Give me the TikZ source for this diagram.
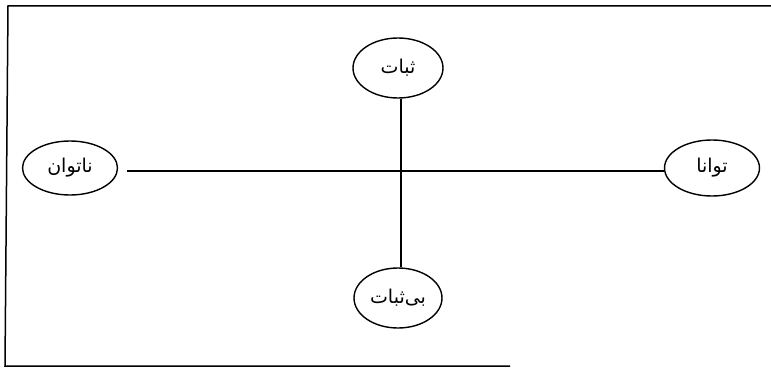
\documentclass[tikz,border=0pt]{standalone}
\usepackage{fontspec}
\TeXXeTstate=1
\newfontfamily\arabicfont[Script=Arabic]{DejaVu Sans}
\usetikzlibrary{shapes.geometric}
\begin{document}
\begin{tikzpicture}[x=1pt,y=-1pt,
  oval/.style={ellipse,draw,line width=1.4pt,minimum width=92pt,minimum height=56pt,inner sep=0pt,font=\arabicfont\fontsize{19}{21}\selectfont},
  link/.style={line width=1.4pt},
  frame/.style={line width=1.5pt}]
\useasboundingbox (0,0) rectangle (771,369);
\coordinate (c1) at (771,6);
\coordinate (c2) at (8,6);
\coordinate (c3) at (5,366);
\coordinate (c4) at (510,366);
\draw[frame] (c1) -- (c2) -- (c3) -- (c4);
\node[oval,minimum height=60pt,minimum width=90pt] (T) at (398,68) {\beginR ثبات\endR};
\node[oval,minimum width=88pt,minimum height=60pt] (B) at (398,298) {\beginR بی‌ثبات\endR};
\node[oval,minimum width=95pt,minimum height=54pt] (L) at (70,168) {\beginR ناتوان\endR};
\node[oval,minimum width=95pt,minimum height=56pt] (R) at (712,168) {\beginR توانا\endR};
\draw[link] ([xshift=9pt,yshift=-3pt]L.east) -- ([yshift=-3pt]R.west);
\draw[link] ([xshift=3pt]T.south) -- ([xshift=3pt]B.north);
\end{tikzpicture}
\end{document}
